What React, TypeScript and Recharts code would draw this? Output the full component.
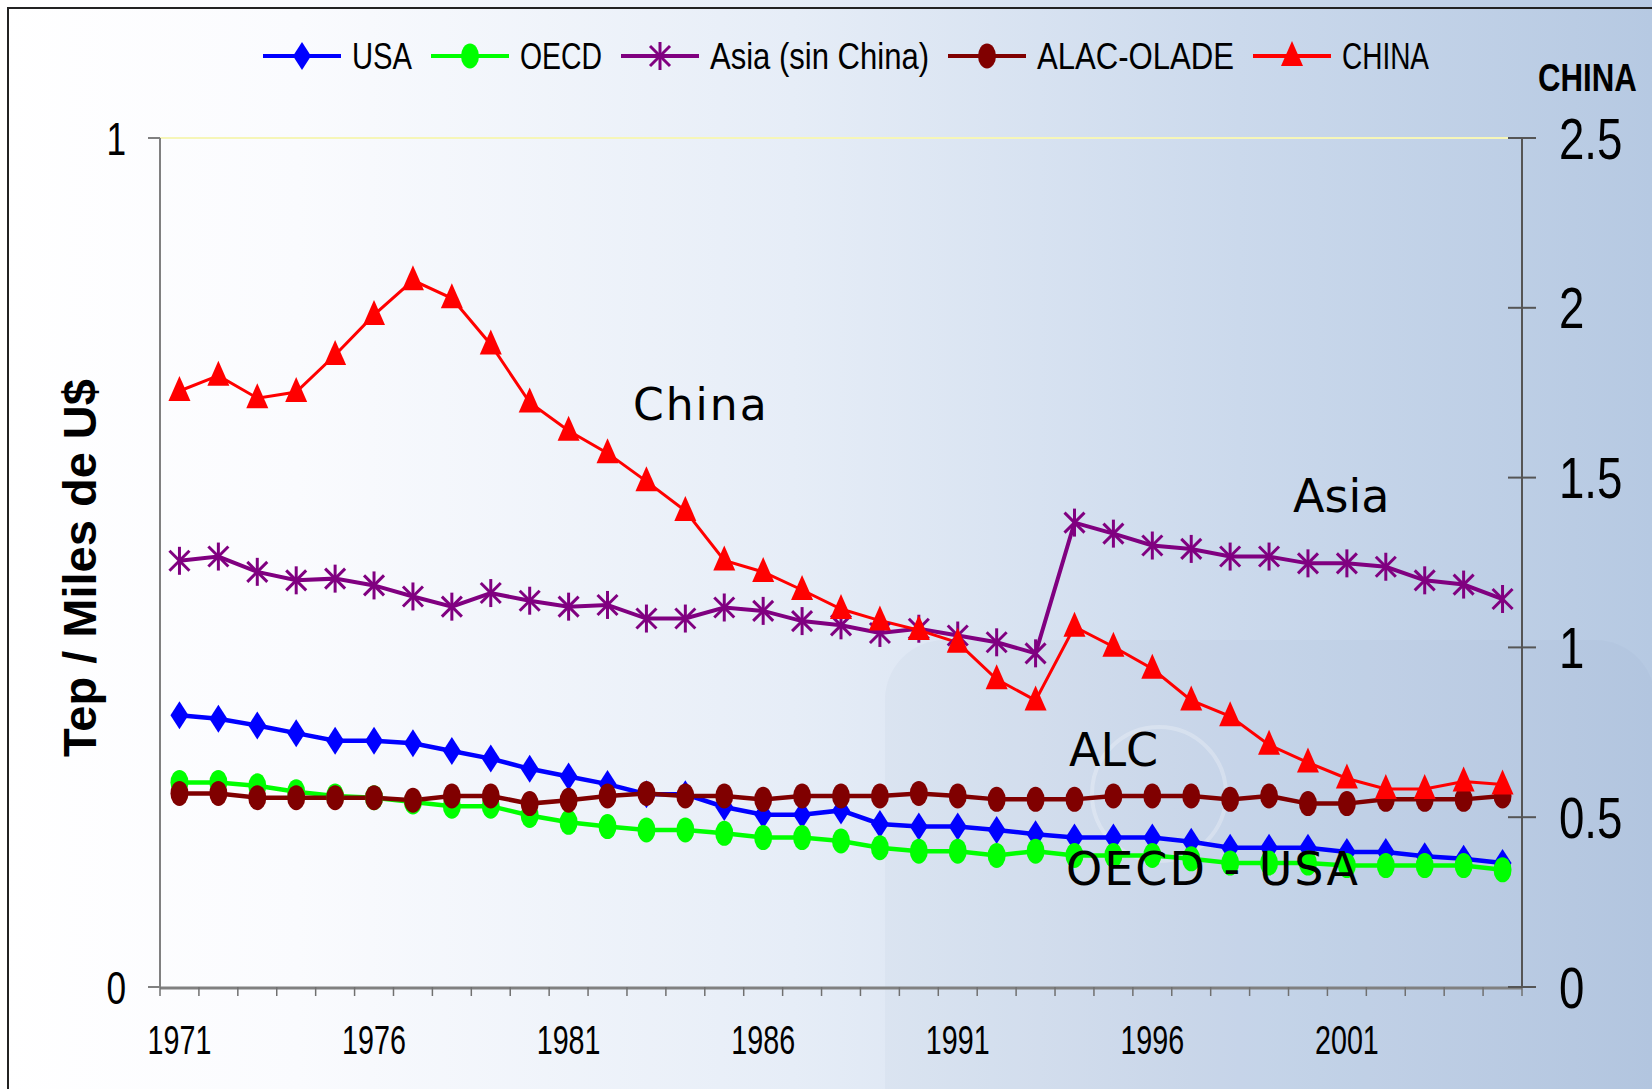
import React from "react";
import {
  Legend,
  Line,
  LineChart,
  ReferenceLine,
  XAxis,
  YAxis,
} from "recharts";

const years = [
  1971, 1972, 1973, 1974, 1975, 1976, 1977, 1978, 1979, 1980, 1981, 1982, 1983, 1984, 1985, 1986, 1987, 1988,
  1989, 1990, 1991, 1992, 1993, 1994, 1995, 1996, 1997, 1998, 1999, 2000, 2001, 2002, 2003, 2004, 2005,
];

const usa = [
  0.32, 0.316, 0.308, 0.299, 0.29, 0.29, 0.287, 0.278, 0.269, 0.257, 0.248, 0.239, 0.227, 0.227, 0.212, 0.203,
  0.203, 0.208, 0.192, 0.189, 0.189, 0.185, 0.18, 0.176, 0.176, 0.176, 0.171, 0.164, 0.164, 0.164, 0.159, 0.159,
  0.154, 0.151, 0.146,
];

const oecd = [
  0.241, 0.241, 0.237, 0.23, 0.225, 0.223, 0.218, 0.213, 0.213, 0.202, 0.194, 0.189, 0.185, 0.185, 0.181, 0.176,
  0.176, 0.172, 0.164, 0.16, 0.16, 0.155, 0.16, 0.155, 0.155, 0.155, 0.151, 0.146, 0.146, 0.146, 0.143, 0.143,
  0.143, 0.143, 0.138,
];

const asia = [
  0.502, 0.507, 0.489, 0.479, 0.481, 0.473, 0.46, 0.448, 0.464, 0.455, 0.448, 0.45, 0.434, 0.434, 0.447, 0.443,
  0.431, 0.426, 0.417, 0.422, 0.414, 0.406, 0.393, 0.547, 0.534, 0.52, 0.516, 0.507, 0.507, 0.499, 0.499, 0.495,
  0.479, 0.474, 0.457,
];

const alac = [
  0.228, 0.228, 0.223, 0.223, 0.223, 0.223, 0.22, 0.225, 0.225, 0.216, 0.22, 0.225, 0.228, 0.225, 0.225, 0.221,
  0.225, 0.225, 0.225, 0.228, 0.225, 0.221, 0.221, 0.221, 0.225, 0.225, 0.225, 0.221, 0.225, 0.216, 0.216, 0.221,
  0.221, 0.221, 0.225,
];

const china = [
  1.755, 1.8, 1.734, 1.752, 1.861, 1.979, 2.081, 2.028, 1.892, 1.721, 1.638, 1.572, 1.489, 1.402, 1.256, 1.222,
  1.169, 1.113, 1.079, 1.051, 1.014, 0.906, 0.844, 1.061, 1.002, 0.937, 0.844, 0.797, 0.713, 0.661, 0.614, 0.583,
  0.583, 0.605, 0.596,
];

const yearLabels = [1971, 1976, 1981, 1986, 1991, 1996, 2001];
const yearBounds = [
  1970.5, 1971.5, 1972.5, 1973.5, 1974.5, 1975.5, 1976.5, 1977.5, 1978.5, 1979.5, 1980.5, 1981.5, 1982.5, 1983.5,
  1984.5, 1985.5, 1986.5, 1987.5, 1988.5, 1989.5, 1990.5, 1991.5, 1992.5, 1993.5, 1994.5, 1995.5, 1996.5, 1997.5,
  1998.5, 1999.5, 2000.5, 2001.5, 2002.5, 2003.5, 2004.5, 2005.5,
];
const leftTicks = [0, 1];
const rightTicks = [0, 0.5, 1, 1.5, 2, 2.5];

const data = years.map((year, i) => ({
  year,
  usa: usa[i],
  oecd: oecd[i],
  asia: asia[i],
  alac: alac[i],
  china: china[i],
}));

const ARIAL = "'Liberation Sans', Arial, sans-serif";
const SANS = "'DejaVu Sans', Verdana, sans-serif";

type MarkerKind = "diamond" | "circle" | "star" | "triangle";

function Marker({ kind, cx, cy, color }: { kind: MarkerKind; cx: number; cy: number; color: string }) {
  if (kind === "diamond") {
    return <polygon points={`${cx},${cy - 14} ${cx + 9},${cy} ${cx},${cy + 14} ${cx - 9},${cy}`} fill={color} />;
  }
  if (kind === "circle") {
    return <ellipse cx={cx} cy={cy} rx={9} ry={12.5} fill={color} />;
  }
  if (kind === "star") {
    return (
      <g stroke={color} strokeWidth={3}>
        <line x1={cx} y1={cy - 14} x2={cx} y2={cy + 14} />
        <line x1={cx - 10} y1={cy - 10} x2={cx + 10} y2={cy + 10} />
        <line x1={cx - 10} y1={cy + 10} x2={cx + 10} y2={cy - 10} />
      </g>
    );
  }
  return <polygon points={`${cx},${cy - 15} ${cx + 11},${cy + 10} ${cx - 11},${cy + 10}`} fill={color} />;
}

const series = [
  { key: "usa", name: "USA", color: "#0000ff", kind: "diamond" as MarkerKind, axis: "left", width: 4.5 },
  { key: "oecd", name: "OECD", color: "#00ff00", kind: "circle" as MarkerKind, axis: "left", width: 4.5 },
  { key: "asia", name: "Asia (sin China)", color: "#800080", kind: "star" as MarkerKind, axis: "left", width: 4 },
  { key: "alac", name: "ALAC-OLADE", color: "#800000", kind: "circle" as MarkerKind, axis: "left", width: 4.5 },
  { key: "china", name: "CHINA", color: "#ff0000", kind: "triangle" as MarkerKind, axis: "right", width: 3 },
];

// legend text widths after the narrow squeeze
const legendTextWidths = [60, 82, 219, 197, 87];

function makeDot(kind: MarkerKind, color: string, key: string) {
  return (props: any) => {
    if (props.cx == null || props.cy == null) return <g key={`${key}-${props.index}`} />;
    return <Marker key={`${key}-${props.index}`} kind={kind} cx={props.cx} cy={props.cy} color={color} />;
  };
}

function LegendContent() {
  return (
    <div style={{ display: "flex", alignItems: "center" }}>
      {series.map((s, i) => (
        <div key={s.key} style={{ display: "flex", alignItems: "center", marginRight: 19 }}>
          <svg width={78 + 11 + legendTextWidths[i]} height={44} style={{ overflow: "visible" }}>
            <line x1={0} y1={22} x2={78} y2={22} stroke={s.color} strokeWidth={4} />
            <Marker kind={s.kind} cx={39} cy={22} color={s.color} />
            <text
              x={89}
              y={22}
              dy="0.36em"
              fontFamily={ARIAL}
              fontSize={37}
              fill="#000"
              textLength={legendTextWidths[i]}
              lengthAdjust="spacingAndGlyphs"
            >
              {s.name}
            </text>
          </svg>
        </div>
      ))}
    </div>
  );
}

function XTick(props: any) {
  const { x, y, payload } = props;
  return (
    <g transform={`translate(${x},${y})`}>
      <text transform="scale(0.7,1)" dy="0.71em" textAnchor="middle" fontFamily={ARIAL} fontSize={41} fill="#000">
        {payload.value}
      </text>
    </g>
  );
}

function EmptyTick() {
  return <g />;
}

function LeftTick(props: any) {
  const { x, y, payload } = props;
  return (
    <g transform={`translate(${x},${y})`}>
      <text transform="scale(0.75,1)" dy="0.36em" textAnchor="end" fontFamily={ARIAL} fontSize={47} fill="#000">
        {payload.value}
      </text>
    </g>
  );
}

function RightTick(props: any) {
  const { x, y, payload } = props;
  return (
    <g>
      <line x1={x - 14} y1={y} x2={x + 14} y2={y} stroke="#555" strokeWidth={2} />
      <g transform={`translate(${x + 37},${y})`}>
        <text transform="scale(0.8,1)" dy="0.36em" textAnchor="start" fontFamily={ARIAL} fontSize={57} fill="#000">
          {payload.value}
        </text>
      </g>
    </g>
  );
}

const annotations = [
  { text: "China", x: 633, y: 427, size: 44, spacing: 2 },
  { text: "Asia", x: 1293, y: 519, size: 46, spacing: 0 },
  { text: "ALC", x: 1069, y: 773, size: 46, spacing: 0 },
  { text: "OECD - USA", x: 1066, y: 892, size: 46, spacing: 2 },
];

export default function App() {
  return (
    <div style={{ position: "absolute", left: 0, top: 0, width: 1652, height: 1089, overflow: "hidden" }}>
      <div
        style={{
          position: "absolute",
          inset: 0,
          background: "linear-gradient(90deg, #ffffff 0%, #fafbfe 18%, #e6edf7 48%, #cbd9ec 75%, #b6c9e2 100%)",
        }}
      />
      <div
        style={{
          position: "absolute",
          left: 885,
          top: 640,
          width: 770,
          height: 460,
          borderRadius: "60px 60px 0 0",
          background: "rgba(120,140,170,0.05)",
        }}
      />
      <div
        style={{
          position: "absolute",
          left: 1090,
          top: 725,
          width: 130,
          height: 130,
          borderRadius: "50%",
          border: "4px solid rgba(255,255,255,0.25)",
        }}
      />
      <div
        style={{
          position: "absolute",
          left: 7,
          top: 7,
          right: 0,
          bottom: 0,
          borderTop: "2px solid #222",
          borderLeft: "2px solid #222",
        }}
      />
      <div style={{ position: "absolute", left: 0, top: 0 }}>
        <LineChart width={1652} height={1089} data={data} margin={{ top: 138, right: 30, bottom: 100, left: 60 }}>
          <XAxis
            xAxisId="yr"
            dataKey="year"
            type="number"
            domain={[1970.5, 2005.5]}
            ticks={yearLabels}
            interval={0}
            height={1}
            tickLine={false}
            tickSize={0}
            tickMargin={37}
            axisLine={{ stroke: "#808080", strokeWidth: 3 }}
            tick={<XTick />}
          />
          <XAxis
            xAxisId="bounds"
            dataKey="year"
            type="number"
            domain={[1970.5, 2005.5]}
            ticks={yearBounds}
            interval={0}
            height={1}
            tick={<EmptyTick />}
            tickSize={9}
            tickLine={{ stroke: "#707070", strokeWidth: 1.5 }}
            axisLine={false}
          />
          <YAxis
            yAxisId="left"
            domain={[0, 1]}
            ticks={leftTicks}
            width={100}
            tickSize={12}
            tickMargin={22}
            tickLine={{ stroke: "#808080", strokeWidth: 2 }}
            axisLine={{ stroke: "#808080", strokeWidth: 2 }}
            tick={<LeftTick />}
          />
          <YAxis
            yAxisId="right"
            orientation="right"
            domain={[0, 2.5]}
            ticks={rightTicks}
            width={100}
            tickSize={0}
            tickMargin={0}
            tickLine={false}
            axisLine={{ stroke: "#555", strokeWidth: 2 }}
            tick={<RightTick />}
          />
          <ReferenceLine yAxisId="left" xAxisId="yr" y={1} stroke="#f6f6b8" strokeWidth={2} />
          {series.map((s) => (
            <Line
              key={s.key}
              xAxisId="yr"
              yAxisId={s.axis}
              dataKey={s.key}
              name={s.name}
              type="linear"
              stroke={s.color}
              strokeWidth={s.width}
              dot={makeDot(s.kind, s.color, s.key)}
              activeDot={false}
              isAnimationActive={false}
            />
          ))}
          <Legend
            layout="horizontal"
            verticalAlign="middle"
            align="center"
            content={<LegendContent />}
            wrapperStyle={{ top: 34, left: 263, width: "auto" }}
          />
        </LineChart>
      </div>
      {annotations.map((a) => (
        <div
          key={a.text}
          style={{
            position: "absolute",
            left: a.x,
            top: a.y - a.size,
            fontFamily: SANS,
            fontSize: a.size,
            letterSpacing: a.spacing,
            lineHeight: `${a.size}px`,
            height: a.size,
            whiteSpace: "pre",
            color: "#000",
            display: "flex",
            alignItems: "flex-end",
          }}
        >
          {a.text}
        </div>
      ))}
      <div
        style={{
          position: "absolute",
          left: 79,
          top: 568,
          transform: "translate(-50%, -50%) rotate(-90deg)",
          fontFamily: ARIAL,
          fontWeight: "bold",
          fontSize: 47,
          whiteSpace: "nowrap",
          color: "#000",
        }}
      >
        Tep / Miles de U$
      </div>
      <div
        style={{
          position: "absolute",
          left: 1538,
          top: 56,
          fontFamily: ARIAL,
          fontWeight: "bold",
          fontSize: 39,
          whiteSpace: "nowrap",
          color: "#000",
          transform: "scaleX(0.8)",
          transformOrigin: "left center",
        }}
      >
        CHINA
      </div>
    </div>
  );
}
